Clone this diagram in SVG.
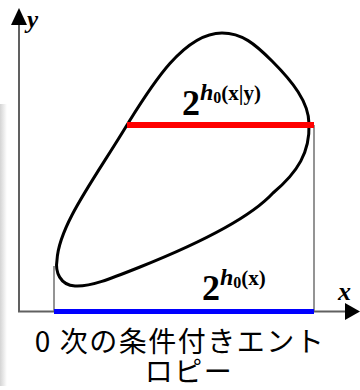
<svg xmlns="http://www.w3.org/2000/svg" width="360" height="390" viewBox="0 0 360 390">
<style>
.axis{stroke:#606060;stroke-width:2;fill:none}
.guide{stroke:#707070;stroke-width:1.5;fill:none}
.arrow{fill:#000}
.lbl{font-family:"Liberation Serif","Times New Roman",serif;font-weight:bold;fill:#000}
.cap{font-family:"Noto Sans CJK JP",sans-serif;font-size:28px;fill:#000;letter-spacing:1.5px}
</style>
<defs>
<linearGradient id="shadow" x1="0" y1="0" x2="1" y2="0">
<stop offset="0" stop-color="#d4d4d4"/>
<stop offset="1" stop-color="#ffffff"/>
</linearGradient>
</defs>
<rect width="360" height="390" fill="#fff"/>
<rect x="0" y="104" width="7" height="282" fill="url(#shadow)"/>
<g id="connectors">
<line class="axis" x1="19" y1="312" x2="19" y2="22"/>
<polygon class="arrow" points="19,8 11,25 27,25"/>
<line class="axis" x1="18" y1="311.5" x2="347" y2="311.5"/>
<polygon class="arrow" points="360,311.5 345,303 345,320"/>
<line class="guide" x1="54" y1="266" x2="54" y2="311"/>
<line class="guide" x1="314" y1="125" x2="314" y2="311"/>
</g>
<g id="blob">
<path d="M222,33 C242,33 255,44 272,61 C292,81 309,102 309,124 C310,152 298,172 273,193 C250,218 195,245 140,267 C110,279 90,287 75,286 C60,285 55,272 57,260 C59,225 95,178 127,125 C150,88 183,33 222,33 Z" fill="none" stroke="#000" stroke-width="3"/>
</g>
<g id="conditional">
<line x1="127" y1="125" x2="314" y2="125" stroke="#ff0000" stroke-width="6"/>
<text class="lbl" x="182" y="115" font-size="36">2<tspan font-style="italic" font-size="24" dy="-15">h</tspan><tspan font-size="16" dy="3">0</tspan><tspan font-size="21" dy="-3">(x|y)</tspan></text>
</g>
<g id="marginal">
<line x1="54" y1="311.5" x2="314" y2="311.5" stroke="#0000ff" stroke-width="5"/>
<text class="lbl" x="202" y="300" font-size="36">2<tspan font-style="italic" font-size="24" dy="-15">h</tspan><tspan font-size="16" dy="3">0</tspan><tspan font-size="21" dy="-3">(x)</tspan></text>
</g>
<g id="axis-labels">
<text class="lbl" x="27" y="28" font-size="25" font-style="italic">y</text>
<text class="lbl" x="338" y="300" font-size="26" font-style="italic">x</text>
</g>
<g id="caption">
<text class="cap" x="180" y="352" text-anchor="middle">0 次の条件付きエント</text>
<text class="cap" x="189" y="382" text-anchor="middle">ロピー</text>
</g>
</svg>
